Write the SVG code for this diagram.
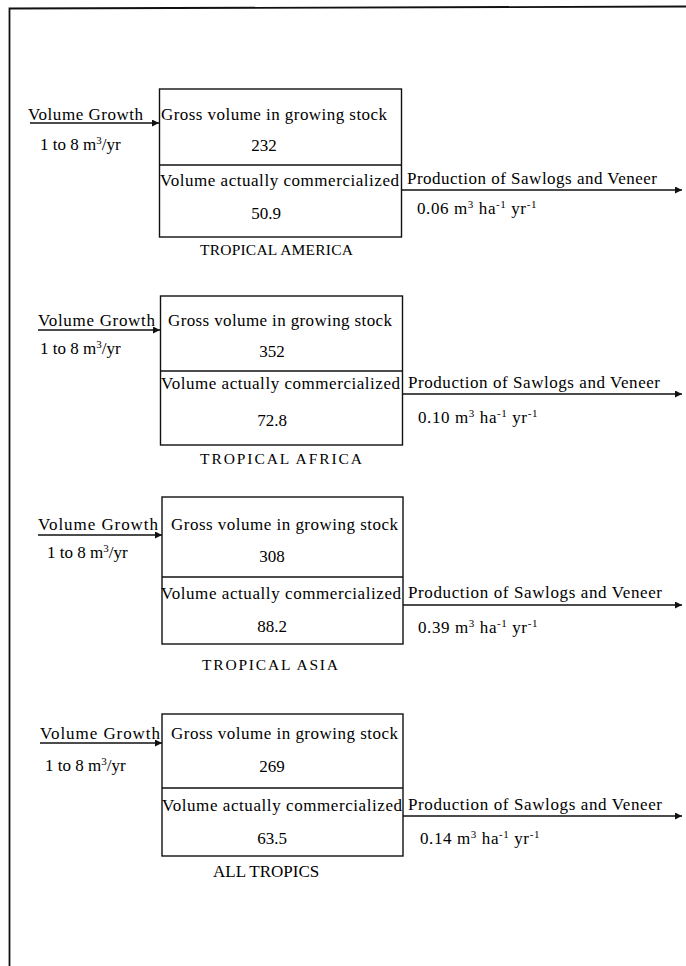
<svg xmlns="http://www.w3.org/2000/svg" width="686" height="966" viewBox="0 0 686 966">
<style>
.t{font-family:"Liberation Serif","Times New Roman",serif;font-size:17px;fill:#000}
.c{font-size:15.5px}
.r{letter-spacing:0.6px}
.box{fill:none;stroke:#111;stroke-width:1.4}
.ln{stroke:#111;stroke-width:1.3;fill:none}
.fr{stroke:#111;stroke-width:1.8;fill:none}
</style>
<defs>
<marker id="ah" viewBox="0 0 10 10" refX="10" refY="5" markerWidth="7" markerHeight="7" markerUnits="userSpaceOnUse" orient="auto">
<path d="M0,0 L10,5 L0,10 z" fill="#111"/>
</marker>
</defs>
<rect width="686" height="966" fill="#fff"/>
<polyline class="fr" points="686,6.5 9.5,8.5 9.5,966"/>

<g id="connectors">
<line class="ln" x1="30" y1="123" x2="159" y2="123" marker-end="url(#ah)"/>
<line class="ln" x1="401" y1="190" x2="682" y2="190" marker-end="url(#ah)"/>
<line class="ln" x1="38" y1="330" x2="160" y2="330" marker-end="url(#ah)"/>
<line class="ln" x1="402" y1="394" x2="682" y2="394" marker-end="url(#ah)"/>
<line class="ln" x1="38" y1="535" x2="162" y2="535" marker-end="url(#ah)"/>
<line class="ln" x1="403" y1="605" x2="682" y2="605" marker-end="url(#ah)"/>
<line class="ln" x1="40" y1="743" x2="162" y2="743" marker-end="url(#ah)"/>
<line class="ln" x1="403" y1="816" x2="682" y2="816" marker-end="url(#ah)"/>
</g>

<g id="america">
<rect class="box" x="159.5" y="89" width="242" height="148"/>
<line class="ln" x1="159.5" y1="165" x2="401.5" y2="165"/>
<text class="t" x="28" y="120" textLength="115">Volume Growth</text>
<text class="t" x="40" y="150">1 to 8 m<tspan font-size="11" baseline-shift="super">3</tspan>/yr</text>
<text class="t" x="161" y="120" textLength="226">Gross volume in growing stock</text>
<text class="t" x="264" y="151" text-anchor="middle">232</text>
<text class="t" x="160" y="186" textLength="239">Volume actually commercialized</text>
<text class="t" x="266" y="219" text-anchor="middle">50.9</text>
<text class="t c" x="200" y="255" textLength="153">TROPICAL  AMERICA</text>
<text class="t" x="407" y="184" textLength="250">Production of Sawlogs and Veneer</text>
<text class="t r" x="417" y="214">0.06 m<tspan font-size="11" baseline-shift="super">3</tspan> ha<tspan font-size="11" baseline-shift="super">-1</tspan> yr<tspan font-size="11" baseline-shift="super">-1</tspan></text>
</g>

<g id="africa">
<rect class="box" x="160.5" y="296" width="242" height="149"/>
<line class="ln" x1="160.5" y1="371" x2="402.5" y2="371"/>
<text class="t" x="38" y="326" textLength="117">Volume Growth</text>
<text class="t" x="40" y="354">1 to 8 m<tspan font-size="11" baseline-shift="super">3</tspan>/yr</text>
<text class="t" x="168" y="326" textLength="224">Gross volume in growing stock</text>
<text class="t" x="272" y="357" text-anchor="middle">352</text>
<text class="t" x="161" y="389" textLength="239">Volume actually commercialized</text>
<text class="t" x="272" y="426" text-anchor="middle">72.8</text>
<text class="t c" x="200" y="464" textLength="162">TROPICAL AFRICA</text>
<text class="t" x="408" y="388" textLength="252">Production of Sawlogs and Veneer</text>
<text class="t r" x="418" y="423">0.10 m<tspan font-size="11" baseline-shift="super">3</tspan> ha<tspan font-size="11" baseline-shift="super">-1</tspan> yr<tspan font-size="11" baseline-shift="super">-1</tspan></text>
</g>

<g id="asia">
<rect class="box" x="162" y="497" width="241" height="147"/>
<line class="ln" x1="162" y1="577" x2="403" y2="577"/>
<text class="t" x="38" y="530" textLength="120">Volume Growth</text>
<text class="t" x="47" y="558">1 to 8 m<tspan font-size="11" baseline-shift="super">3</tspan>/yr</text>
<text class="t" x="171" y="530" textLength="227">Gross volume in growing stock</text>
<text class="t" x="272" y="562" text-anchor="middle">308</text>
<text class="t" x="161" y="599" textLength="240">Volume actually commercialized</text>
<text class="t" x="272" y="632" text-anchor="middle">88.2</text>
<text class="t c" x="202" y="670" textLength="136">TROPICAL ASIA</text>
<text class="t" x="408" y="598" textLength="254">Production of Sawlogs and Veneer</text>
<text class="t r" x="418" y="633">0.39 m<tspan font-size="11" baseline-shift="super">3</tspan> ha<tspan font-size="11" baseline-shift="super">-1</tspan> yr<tspan font-size="11" baseline-shift="super">-1</tspan></text>
</g>

<g id="all-tropics">
<rect class="box" x="162" y="714" width="241" height="142"/>
<line class="ln" x1="162" y1="788" x2="403" y2="788"/>
<text class="t" x="40" y="739" textLength="120">Volume Growth</text>
<text class="t" x="45" y="771">1 to 8 m<tspan font-size="11" baseline-shift="super">3</tspan>/yr</text>
<text class="t" x="171" y="739" textLength="227">Gross volume in growing stock</text>
<text class="t" x="272" y="772" text-anchor="middle">269</text>
<text class="t" x="162" y="811" textLength="240">Volume actually commercialized</text>
<text class="t" x="272" y="844" text-anchor="middle">63.5</text>
<text class="t" x="213" y="877" font-size="15">ALL TROPICS</text>
<text class="t" x="408" y="810" textLength="254">Production of Sawlogs and Veneer</text>
<text class="t r" x="420" y="844">0.14 m<tspan font-size="11" baseline-shift="super">3</tspan> ha<tspan font-size="11" baseline-shift="super">-1</tspan> yr<tspan font-size="11" baseline-shift="super">-1</tspan></text>
</g>
</svg>
